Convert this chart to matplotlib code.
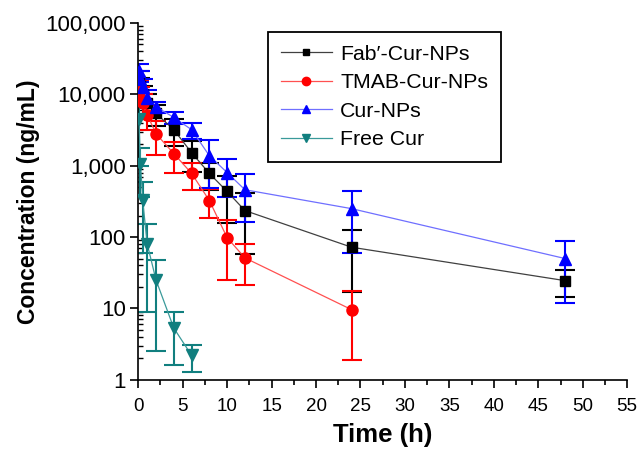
import numpy as np
import matplotlib
matplotlib.use("Agg")
import matplotlib.pyplot as plt
from matplotlib.ticker import FuncFormatter, LogLocator, MultipleLocator

plt.rcParams['font.family'] = ['Liberation Sans', 'DejaVu Sans']

# sampling times (h)
t_np = [0.083, 0.25, 0.5, 1, 2, 4, 6, 8, 10, 12, 24, 48]
t_tmab = [0.083, 0.25, 0.5, 1, 2, 4, 6, 8, 10, 12, 24]
t_free = [0.083, 0.25, 0.5, 1, 2, 4, 6]

# concentrations (ng/mL) and SD
fab = [16000, 13000, 10000, 7500, 5400, 3200, 1520, 780, 435, 235, 72, 24.5]
fab_sd = [5000, 4000, 3000, 2500, 1800, 1300, 700, 320, 280, 177, 55, 10]

tmab = [12000, 9500, 7500, 5200, 2800, 1480, 780, 325, 98, 51, 9.6]
tmab_sd = [4000, 3000, 2500, 2000, 1400, 700, 320, 140, 73, 30, 7.7]

curnp = [21000, 16500, 12500, 9000, 6700, 4750, 3200, 1380, 800, 460, 250, 50]
curnp_sd = [6000, 5000, 4000, 2500, 1200, 900, 800, 900, 430, 295, 190, 38]

free = [4500, 1070, 330, 81, 25, 5.3, 2.2]
free_sd = [3500, 700, 270, 72, 23, 3.7, 0.9]

fig = plt.figure(figsize=(6.4, 4.51), dpi=100)
ax = fig.add_axes([0.216, 0.158, 0.764, 0.791])

series = [
    ("Fab\u2032-Cur-NPs", t_np, fab, fab_sd, 's', 'black', '#404040', 6.5),
    ("TMAB-Cur-NPs", t_tmab, tmab, tmab_sd, 'o', 'red', '#ff5050', 8),
    ("Cur-NPs", t_np, curnp, curnp_sd, '^', 'blue', '#6f6fff', 8.5),
    ("Free Cur", t_free, free, free_sd, 'v', '#117f7f', '#3a9a9a', 8.5),
]

for name, t, y, sd, mk, c, lc, ms in series:
    y = np.array(y, dtype=float)
    sd = np.array(sd, dtype=float)
    lower = np.minimum(sd, y * 0.9)
    ax.errorbar(t, y, yerr=[lower, sd], fmt='none', ecolor=c, elinewidth=1.5,
                capsize=7, capthick=1.5, zorder=2)
    ax.plot(t, y, color=lc, lw=0.9, marker=mk, ms=ms, mfc=c, mec=c,
            label=name, zorder=3)

ax.set_yscale('log')
ax.set_ylim(1, 100000)
ax.set_xlim(0, 55)
ax.xaxis.set_major_locator(MultipleLocator(5))
ax.xaxis.set_minor_locator(MultipleLocator(2.5))
ax.yaxis.set_major_locator(LogLocator(base=10, numticks=10))
ax.yaxis.set_minor_locator(LogLocator(base=10, subs=np.arange(2, 10), numticks=10))
ax.yaxis.set_major_formatter(FuncFormatter(lambda v, p: '{:,.0f}'.format(v)))

for s in ['top', 'right']:
    ax.spines[s].set_visible(False)
for s in ['left', 'bottom']:
    ax.spines[s].set_linewidth(1.2)

ax.tick_params(axis='x', which='major', labelsize=13.5, width=1.2, length=6, pad=7)
ax.tick_params(axis='y', which='major', labelsize=16, width=1.2, length=6, pad=3)
ax.tick_params(axis='x', which='minor', length=3.5, width=1.2)
ax.tick_params(axis='y', which='minor', direction='in', length=3.5, width=1)

ax.set_xlabel('Time (h)', fontsize=18.5, fontweight='bold', labelpad=6)
ax.set_ylabel('Concentration (ng/mL)', fontsize=16.5, fontweight='bold', labelpad=4)

leg = ax.legend(loc='upper left', bbox_to_anchor=(0.265, 0.975), borderaxespad=0,
                fontsize=15.3, fancybox=False, edgecolor='black', framealpha=1,
                handlelength=2.4, handletextpad=0.4, borderpad=0.6,
                labelspacing=0.45, markerscale=0.75)
leg.get_frame().set_linewidth(1.3)

fig.savefig('out.png', dpi=100)
